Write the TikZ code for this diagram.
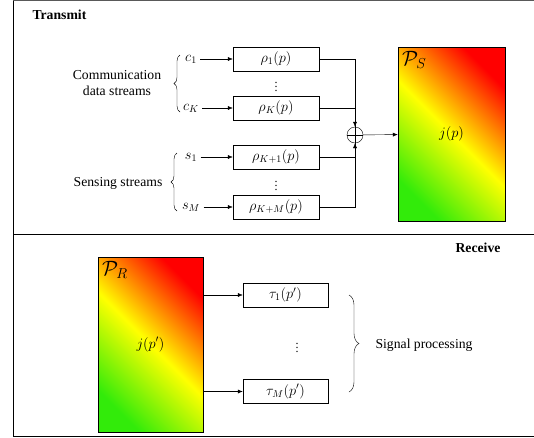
\documentclass[tikz,border=0pt]{standalone}
\usepackage{amsmath, amssymb, amsfonts}
\usepackage{xcolor}
\usepackage{fontspec}
\setmainfont{Liberation Serif}
\usepackage{tikz}
\usetikzlibrary{positioning, arrows.meta, decorations.pathreplacing}

\definecolor{mapgreen}{RGB}{50,235,10}
\definecolor{mapyellow}{RGB}{255,255,0}
\definecolor{mapred}{RGB}{255,0,0}

\begin{document}
\begin{tikzpicture}[x=1pt, y=-1pt, >={Latex[length=5pt, width=4pt]}, font=\rmfamily\fontsize{13.7}{16}\selectfont,
    B node/.style={draw, minimum width=86pt, minimum height=24pt, inner sep=0pt},
    dots node/.style={inner sep=0pt, font=\fontsize{12}{12}\selectfont},
    map node/.style={draw, left color=mapgreen, right color=mapred, middle color=mapyellow, shading angle=135},
    brace node/.style={decorate, decoration={brace, amplitude=6pt}}]
    \useasboundingbox (0,0) rectangle (534,437);

    % frame
    \draw[gray!70!black] (13,0.5) -- (534,0.5);
    \draw (13,0.5) -- (13,436) -- (534,436);
    \draw (13,234.5) -- (534,234.5);
    \node[font=\rmfamily\bfseries\fontsize{13.7}{16}\selectfont, anchor=west] (tx) at (29,15) {Transmit};
    \node[font=\rmfamily\bfseries\fontsize{13.7}{16}\selectfont, anchor=east] (rx) at (504,248) {Receive};

    % transmit side
    \node[B node] (rho1) at (276,59) {$\rho_1(p)$};
    \node[B node] (rhoK) at (276,108) {$\rho_K(p)$};
    \node[B node] (rhoK1) at (276,157) {$\rho_{K+1}(p)$};
    \node[B node] (rhoKM) at (276,207) {$\rho_{K+M}(p)$};
    \node[dots node] (dots1) at (276,84) {$\vdots$};
    \node[dots node] (dots2) at (276,183) {$\vdots$};

    \node (c1) at (191,59) {$c_1$};
    \node (cK) at (191,108) {$c_K$};
    \node (s1) at (191,157) {$s_1$};
    \node (sM) at (191,207) {$s_M$};

    \path
    (c1) edge[->] (rho1)
    (cK) edge[->] (rhoK)
    (s1) edge[->] (rhoK1)
    (sM) edge[->] (rhoKM)
    ;

    \draw[brace node] (180,112) -- (180,55);
    \draw[brace node] (177,211) -- (177,153);
    \node[align=center] (comm) at (117,83) {Communication\\data streams};
    \node (sens) at (118,183) {Sensing streams};

    \node[circle, draw, minimum size=16pt, inner sep=0pt] (sum) at (355,135) {};
    \draw (sum.north) -- (sum.south) (sum.west) -- (sum.east);
    \draw[->] (rho1.east) -| (sum.north);
    \draw (rhoK.east) -| (sum.north);
    \draw[->] (rhoKM.east) -| (sum.south);
    \draw (rhoK1.east) -| (sum.south);

    \node[map node, minimum width=107pt, minimum height=174pt] (PS) at (451.5,134) {$j(p)$};
    \node[anchor=north west, inner sep=4pt] (PSlab) at (PS.north west) {\fontsize{20}{20}\selectfont$\mathcal{P}_S$};
    \draw[->] (sum) -- (PS);

    % receive side
    \node[map node, minimum width=105pt, minimum height=175pt] (PR) at (150.5,344.5) {$j(p')$};
    \node[anchor=north west, inner sep=4pt] (PRlab) at (PR.north west) {\fontsize{20}{20}\selectfont$\mathcal{P}_R$};

    \node[B node, minimum width=85pt] (tau1) at (285.5,295) {$\tau_1(p')$};
    \node[B node, minimum width=85pt] (tauM) at (285.5,391.5) {$\tau_M(p')$};
    \node[dots node] (dots3) at (297,345) {$\vdots$};
    \draw[->] (PR.east |- tau1) -- (tau1);
    \draw[->] (PR.east |- tauM) -- (tauM);

    \draw[decorate, decoration={brace, amplitude=10pt}] (349,295) -- (349,392);
    \node[anchor=west] (sig) at (372,345) {Signal processing};
\end{tikzpicture}
\end{document}
